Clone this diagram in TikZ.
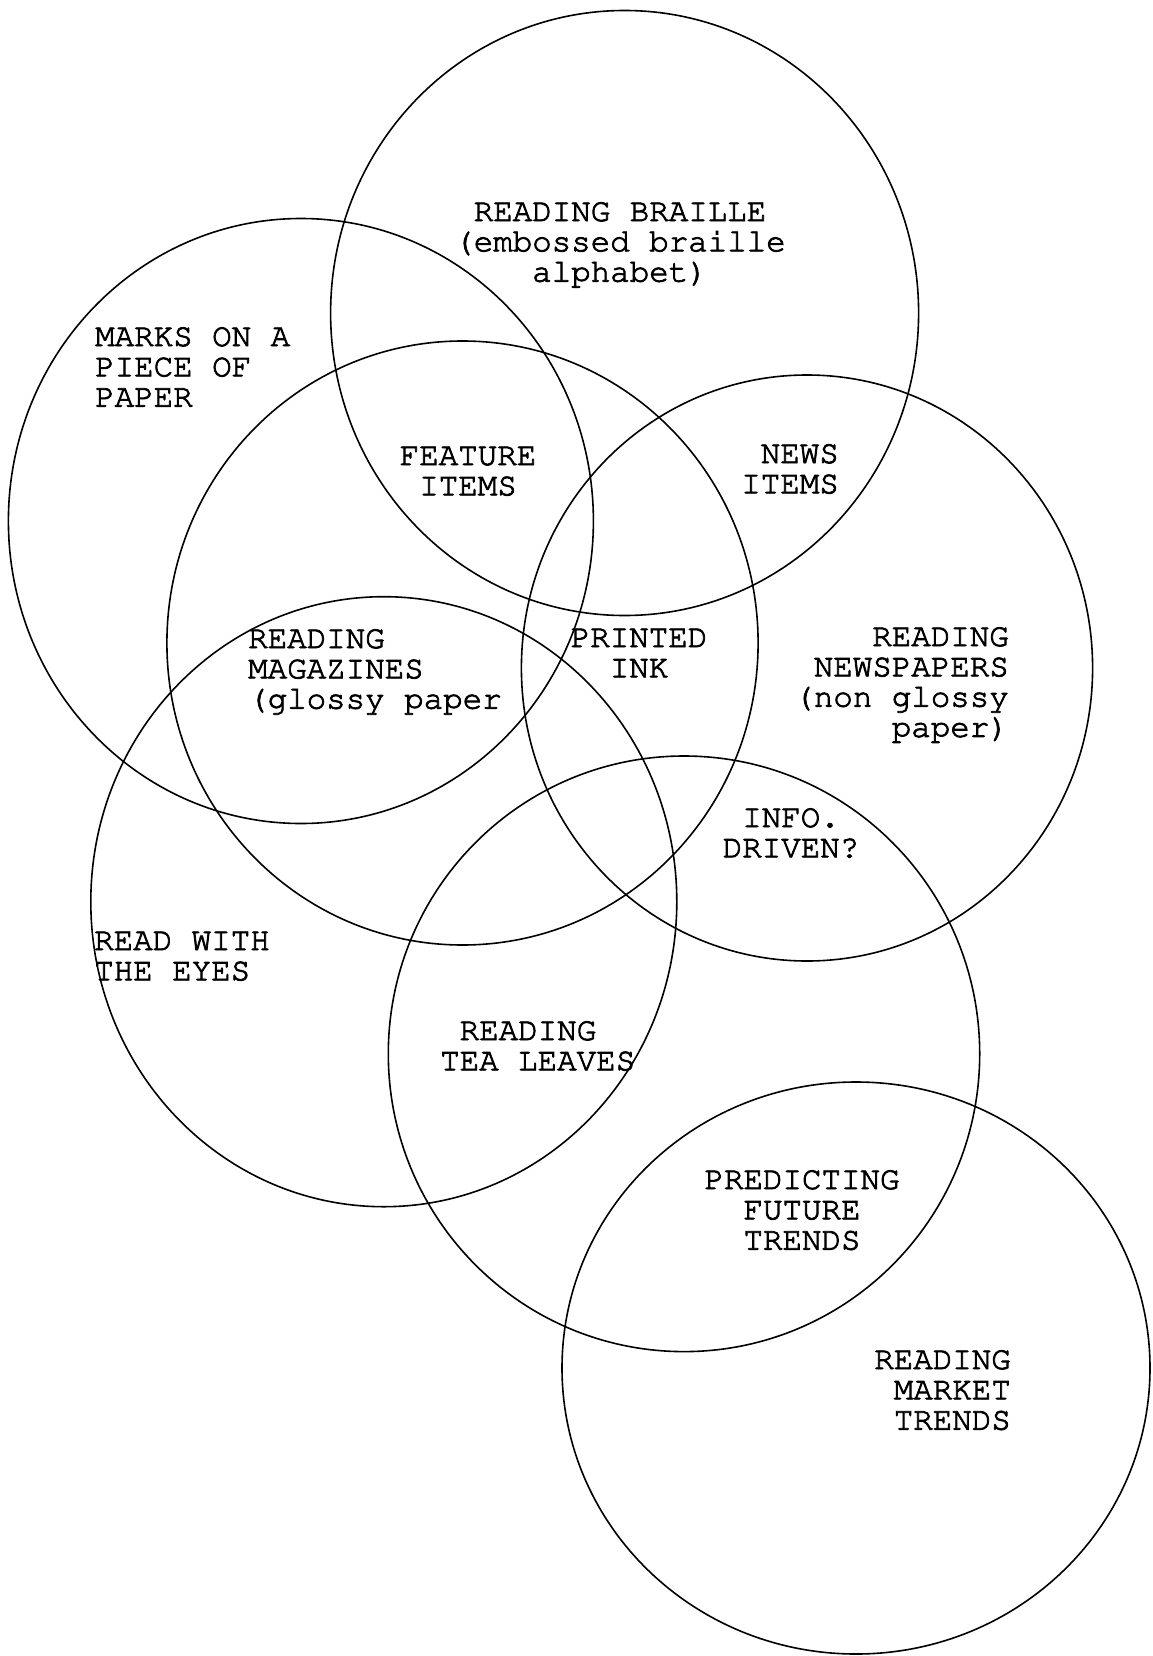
\documentclass[tikz,border=0pt]{standalone}
\usepackage[T1]{fontenc}
\newcommand{\heavytext}[1]{\special{pdf:literal direct 2 Tr 0.8 w}#1\special{pdf:literal direct 0 Tr}}
\begin{document}
\begin{tikzpicture}[x=1pt,y=-1pt,
  ring/.style={draw=black,line width=1.6pt},
  lbl/.style={inner sep=0pt,font=\fontencoding{T1}\fontfamily{pcr}\fontsize{32.5}{30.3}\selectfont}]
\useasboundingbox[fill=white] (0,0) rectangle (1152,1656);
% circles
\draw[ring] (624.6,313) ellipse [x radius=294pt,y radius=302.5pt];
\draw[ring] (300.9,521) ellipse [x radius=292.5pt,y radius=302.5pt];
\draw[ring] (462.5,643) ellipse [x radius=295.6pt,y radius=302pt];
\draw[ring] (807,668) ellipse [x radius=285.6pt,y radius=293pt];
\draw[ring] (383.8,901.7) ellipse [x radius=293pt,y radius=305pt];
\draw[ring] (684,1053.8) ellipse [x radius=295.7pt,y radius=297.8pt];
\draw[ring] (856,1368) ellipse [x radius=294pt,y radius=286pt];
% labels (anchor = baseline of the last line)
\node[lbl,align=center,anchor=base] (braille) at (620,281.6) {\heavytext{READING BRAILLE\\(embossed braille\\alphabet)}};
\node[lbl,align=left,anchor=base west] (marks) at (95,406.6) {\heavytext{MARKS ON A\\PIECE OF\\PAPER}};
\node[lbl,align=center,anchor=base] (feature) at (468,495.3) {\heavytext{FEATURE\\ITEMS}};
\node[lbl,align=right,anchor=base east] (news) at (839,493.3) {\heavytext{NEWS\\ITEMS}};
\node[lbl,align=left,anchor=base west] (magazines) at (248,708.6) {\heavytext{READING\\MAGAZINES\\(glossy paper}};
\node[lbl,align=center,anchor=base] (printed) at (639,677.3) {\heavytext{PRINTED\\INK}};
\node[lbl,align=right,anchor=base east] (newspapers) at (1009,736.9) {\heavytext{READING\\NEWSPAPERS\\(non glossy\\paper)}};
\node[lbl,align=center,anchor=base] (info) at (791,857.3) {\heavytext{INFO.\\DRIVEN?}};
\node[lbl,align=left,anchor=base west] (eyes) at (94,980.3) {\heavytext{READ WITH\\THE EYES}};
\node[lbl,align=left,anchor=base west] (tea) at (440,1070.3) {\heavytext{\hphantom{T}READING\\TEA LEAVES}};
\node[lbl,align=center,anchor=base] (predict) at (802,1249.6) {\heavytext{PREDICTING\\FUTURE\\TRENDS}};
\node[lbl,align=right,anchor=base east] (market) at (1011,1429.6) {\heavytext{READING\\MARKET\\TRENDS}};
\end{tikzpicture}
\end{document}
